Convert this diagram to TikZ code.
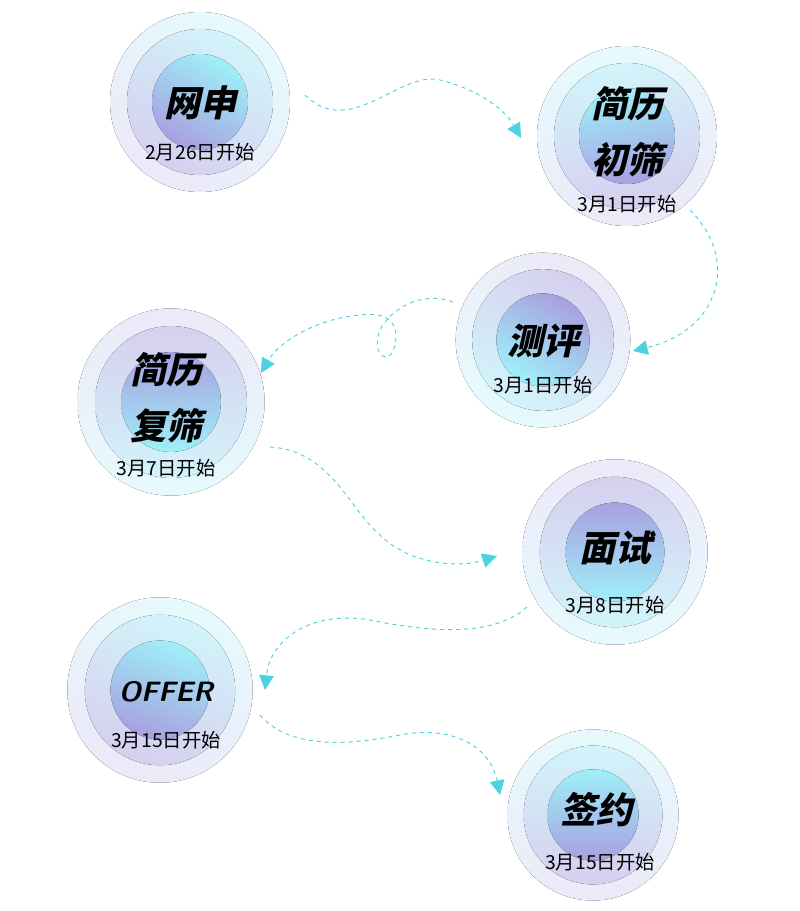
\documentclass[tikz,border=0pt]{standalone}
\usepackage{fontspec}
\newfontfamily\cjk{Noto Sans CJK SC}
\newfontfamily\cjkb{Noto Sans CJK SC}[FakeSlant=0.22]
\usetikzlibrary{arrows.meta}
\definecolor{cy}{HTML}{9FF0F8}
\definecolor{pu}{HTML}{A8A0E0}
\definecolor{cyo}{HTML}{E6FAFD}
\definecolor{puo}{HTML}{ECE9F8}
\definecolor{cym}{HTML}{D2F4FA}
\definecolor{pum}{HTML}{D6CFEF}
\definecolor{ln}{HTML}{4DD2E0}
\tikzset{
  conn/.style={draw=ln,dashed,line width=0.7pt,-{Triangle[length=11pt,width=11pt]}},
  ttl/.style={font=\cjkb\bfseries\fontsize{27}{30}\selectfont,inner sep=0pt},
  dt/.style={font=\cjk\fontsize{14.5}{16}\selectfont,inner sep=0pt},
}
\newcommand{\bub}[5]{% name, x, y, scale, angle
  \fill[left color=cyo,right color=puo,shading angle=#5] (#2,#3) circle ({90*#4});
  \fill[left color=cym,right color=pum,shading angle=#5] (#2,#3) circle ({73*#4});
  \fill[left color=cy,right color=pu,shading angle=#5] (#2,#3) circle ({48*#4});
  \coordinate (#1) at (#2,#3);
}
\begin{document}
\begin{tikzpicture}[x=0.75pt,y=-0.75pt]
\useasboundingbox (0,0) rectangle (800,911);
\bub{c1}{200}{102}{1}{-30}
\bub{c2}{627}{136}{1}{10}
\bub{c3}{543}{340}{0.97}{150}
\bub{c4}{171}{402}{1.04}{180}
\bub{c5}{615}{552}{1.03}{180}
\bub{c6}{160}{690}{1.03}{-20}
\bub{c7}{593}{815}{0.95}{0}
\node[ttl] (t1) at (200,103) {网申};
\node[dt] (d1) at (200,152) {2月26日开始};
\node[ttl] (t2a) at (627,104) {简历};
\node[ttl] (t2b) at (627,160) {初筛};
\node[dt] (d2) at (627,204) {3月1日开始};
\node[ttl] (t3) at (543,341) {测评};
\node[dt] (d3) at (543,385) {3月1日开始};
\node[ttl] (t4a) at (166,370) {简历};
\node[ttl] (t4b) at (166,426) {复筛};
\node[dt] (d4) at (166,468) {3月7日开始};
\node[ttl] (t5) at (615,548) {面试};
\node[dt] (d5) at (615,605) {3月8日开始};
\node[ttl,font=\sffamily\bfseries\itshape\fontsize{21}{24}\selectfont] (t6) at (166,692) {OFFER};
\node[dt] (d6) at (166,740) {3月15日开始};
\node[ttl] (t7) at (596,810) {签约};
\node[dt] (d7) at (600,862) {3月15日开始};
\coordinate (s1) at (305,95); \coordinate (e1) at (521,138);
\coordinate (s2) at (690,210); \coordinate (e2) at (633,351);
\coordinate (s3) at (453,302); \coordinate (e3) at (261,373);
\coordinate (s4) at (270,447); \coordinate (e4) at (497,556);
\coordinate (s5) at (527,607); \coordinate (e5) at (265,690);
\coordinate (s6) at (260,715); \coordinate (e6) at (500,795);
\draw[conn] (s1) .. controls (350,140) and (400,70) .. (440,80) .. controls (480,90) and (505,110) .. (e1);
\draw[conn] (s2) .. controls (740,260) and (720,330) .. (e2);
\draw[conn] (s3) .. controls (420,290) and (390,310) .. (380,330) .. controls (370,355) and (390,368) .. (395,345) .. controls (400,320) and (385,312) .. (360,315) .. controls (320,318) and (280,340) .. (e3);
\draw[conn] (s4) .. controls (330,450) and (350,510) .. (380,535) .. controls (410,565) and (460,568) .. (e4);
\draw[conn] (s5) .. controls (490,640) and (420,630) .. (370,620) .. controls (310,610) and (270,640) .. (e5);
\draw[conn] (s6) .. controls (290,750) and (350,745) .. (400,735) .. controls (450,725) and (490,745) .. (e6);
\end{tikzpicture}
\end{document}
